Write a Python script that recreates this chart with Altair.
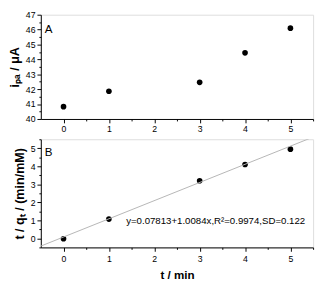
import altair as alt
import pandas as pd

# ---- data ----
t_min = [0, 1, 3, 4, 5]
ipa_uA = [40.83, 41.86, 42.46, 44.44, 46.10]
t_over_qt = [-0.02, 1.07, 3.20, 4.10, 4.95]

fit_intercept = 0.07813
fit_slope = 1.0084
fit_x = [-0.5, 5.5]
fit_label = "y=0.07813+1.0084x,R\u00b2=0.9974,SD=0.122"

x_ticks = [0, 0.5, 1, 1.5, 2, 2.5, 3, 3.5, 4, 4.5, 5, 5.5]
ya_ticks = [40, 40.5, 41, 41.5, 42, 42.5, 43, 43.5, 44, 44.5, 45, 45.5, 46, 46.5, 47]
yb_ticks = [-0.5, 0, 0.5, 1, 1.5, 2, 2.5, 3, 3.5, 4, 4.5, 5, 5.5]

pts_a = pd.DataFrame({"t": t_min, "v": ipa_uA})
pts_b = pd.DataFrame({"t": t_min, "v": t_over_qt})
fit_df = pd.DataFrame({"t": fit_x, "v": [fit_intercept + fit_slope * x for x in fit_x]})
ann_df = pd.DataFrame({"t": [1.38], "v": [0.98], "txt": [fit_label]})

W, HA, HB = 282, 108, 112
FONT = "Liberation Sans"
major = "abs(datum.value - round(datum.value)) < 0.01"
tick_size = {"condition": {"test": major, "value": 4}, "value": 2}
label_expr = f"{major} ? '' + round(datum.value) : ''"


def xaxis(title):
    kw = dict(values=x_ticks, labelExpr=label_expr, tickSize=tick_size, grid=False,
              labelFont=FONT, labelFontSize=9, labelColor="black", labelOverlap=False,
              domainColor="black", tickColor="black")
    if title:
        return alt.Axis(title=title, titleFont=FONT, titleFontSize=12, labelPadding=4,
                        titleFontWeight="bold", titleColor="black", titlePadding=6, **kw)
    return alt.Axis(title=None, labelPadding=2, **kw)


def yaxis(title, vals):
    return alt.Axis(values=vals, labelExpr=label_expr, tickSize=tick_size, grid=False,
                    labelFont=FONT, labelFontSize=9, labelColor="black", labelOverlap=False,
                    domainColor="black", tickColor="black", labelPadding=2,
                    title=title, titleFont=FONT, titleFontSize=13,
                    titleFontWeight="bold", titleColor="black", titlePadding=4)


xs = alt.Scale(domain=[-0.5, 5.5], nice=False, zero=False)
ysa = alt.Scale(domain=[40, 47], nice=False, zero=False)
ysb = alt.Scale(domain=[-0.5, 5.5], nice=False, zero=False)

pa = alt.Chart(pts_a).mark_circle(size=34, color="black", opacity=1).encode(
    x=alt.X("t:Q", scale=xs, axis=xaxis(None)),
    y=alt.Y("v:Q", scale=ysa, axis=yaxis("i\u209a\u2090 / \u03bcA", ya_ticks)),
)
la = alt.Chart(pd.DataFrame({"l": ["A"]})).mark_text(
    font=FONT, fontSize=12, color="black", align="center", baseline="middle"
).encode(x=alt.value(8), y=alt.value(15), text="l:N")
panel_a = alt.layer(pa, la).properties(width=W, height=HA)

xb = alt.X("t:Q", scale=xs, axis=xaxis("t / min"))
yb = alt.Y("v:Q", scale=ysb, axis=yaxis("t / q\u209c / (min/mM)", yb_ticks))

pb = alt.Chart(pts_b).mark_circle(size=34, color="black", opacity=1).encode(x=xb, y=yb)
fit = alt.Chart(fit_df).mark_line(color="#b4b4b4", strokeWidth=1, clip=True).encode(x=xb, y=yb)
ann = alt.Chart(ann_df).mark_text(
    font=FONT, fontSize=10, color="black", align="left", baseline="middle"
).encode(x=xb, y=yb, text="txt:N")
lb = alt.Chart(pd.DataFrame({"l": ["B"]})).mark_text(
    font=FONT, fontSize=12, color="black", align="center", baseline="middle"
).encode(x=alt.value(8), y=alt.value(13), text="l:N")
panel_b = alt.layer(pb, fit, ann, lb).properties(width=W, height=HB)

chart = alt.vconcat(panel_a, panel_b, spacing=0).properties(
    padding={"left": 0, "top": -3, "right": 2, "bottom": 0}
).configure_view(stroke=None).configure(background="white")

chart.save("out.html", embed_options={"renderer": "svg", "actions": False})
